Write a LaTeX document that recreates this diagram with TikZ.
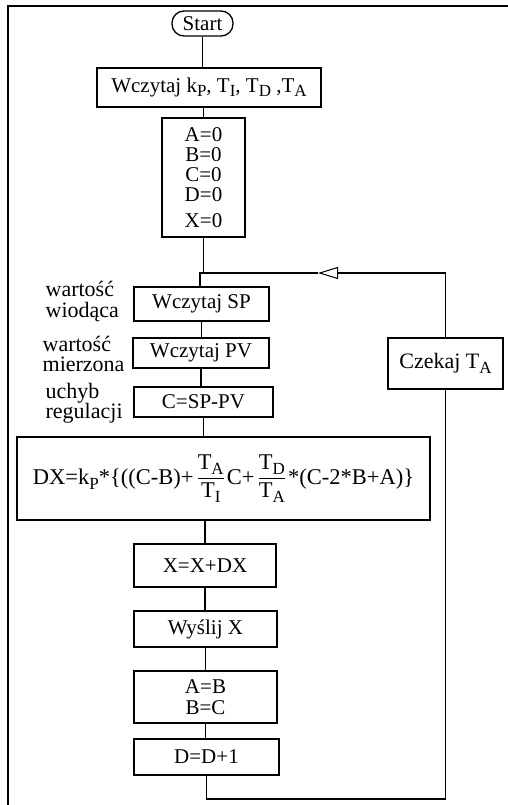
\documentclass[tikz,border=0pt]{standalone}
\usepackage{fontspec}
\setmainfont{Liberation Serif}
\usetikzlibrary{arrows.meta}
\newcommand\lo[1]{\raisebox{-0.45ex}{\fontsize{17}{17}\selectfont #1}}
\newcommand\myfrac[2]{\hspace{3pt}\raisebox{1.5pt}{$\displaystyle{\hbox{#1}\above 1.1pt\hbox{#2}}$}\hspace{2pt}}
\begin{document}
\begin{tikzpicture}[x=1pt,y=-1pt, line width=1.3pt,
  box/.style={draw, inner sep=0pt, align=center, font=\fontsize{21}{20}\selectfont},
  lbl/.style={inner sep=0pt, align=left, anchor=west, font=\fontsize{22}{20.5}\selectfont},
  conn/.style={line width=1.3pt}]
\useasboundingbox (0,0) rectangle (508,805);
\draw (8,805) -- (8,6) -- (508,6);

\node[box, rounded corners=12pt, minimum width=61pt, minimum height=25pt] (start) at (202.5,23.5) {Start};
\node[box, minimum width=224pt, minimum height=39pt] (read) at (209,87.5) {Wczytaj k\lo{P}, T\lo{I}, T\lo{D} ,T\lo{A}};
\node[box, minimum width=83pt, minimum height=119pt] (init) at (203.5,177.5) {A=0\\B=0\\C=0\\D=0\\[6pt]X=0};
\node[box, minimum width=135pt, minimum height=34pt] (sp) at (201.5,304) {Wczytaj SP};
\node[box, minimum width=136pt, minimum height=30pt] (pv) at (201,353) {Wczytaj PV};
\node[box, minimum width=139pt, minimum height=30pt] (c) at (203.5,402) {C=SP-PV};
\node[box, minimum width=413pt, minimum height=83pt, font=\fontsize{22.5}{22}\selectfont] (dx) at (223.5,478.5)
  {DX=k\lo{P}*\{((C-B)+\myfrac{T\lo{A}}{T\lo{I}}C+\myfrac{T\lo{D}}{T\lo{A}}*(C-2*B+A)\}};
\node[box, minimum width=142pt, minimum height=43pt] (xx) at (205,565.5) {X=X+DX};
\node[box, minimum width=143pt, minimum height=36pt] (send) at (205.5,629) {Wyślij X};
\node[box, minimum width=143pt, minimum height=52pt, font=\fontsize{21}{21}\selectfont] (ab) at (205.5,697) {A=B\\B=C};
\node[box, minimum width=145pt, minimum height=36pt] (dd) at (206.5,757) {D=D+1};
\node[box, minimum width=115pt, minimum height=51pt, font=\fontsize{22}{22}\selectfont] (wait) at (445.5,363.5) {Czekaj T\lo{A}};

\node[lbl] (l1) at (45,301.5) {wartość\\wiodąca};
\node[lbl] (l2) at (42,354) {wartość\\mierzona};
\node[lbl] (l3) at (45,403) {uchyb\\regulacji};

\coordinate (j) at (200,273);
\coordinate (tip) at (318,273);
\coordinate (bot) at (207,799);

\draw[conn] (start.south) -- (start.south |- read.north);
\draw[conn] (init.north |- read.south) -- (init.north);
\draw[conn] (init.south) -- (init.south |- j) -- (j) -- (sp.north -| j);
\draw[conn] (sp.south) -- (sp.south |- pv.north);
\draw[conn] (pv.south) -- (pv.south |- c.north);
\draw[conn] (c.south) -- (c.south |- dx.north);
\draw[conn] (xx.north |- dx.south) -- (xx.north);
\draw[conn] (xx.south) -- (xx.south |- send.north);
\draw[conn] (send.south) -- (send.south |- ab.north);
\draw[conn] (ab.south) -- (ab.south |- dd.north);
\draw[conn] (dd.south) -- (dd.south |- bot) -| (wait.south);
\draw[conn, -{Triangle[open, length=20pt, width=12pt, line width=1pt]}] (wait.north) |- (tip);
\draw[conn] (tip) -- (j);
\end{tikzpicture}
\end{document}
